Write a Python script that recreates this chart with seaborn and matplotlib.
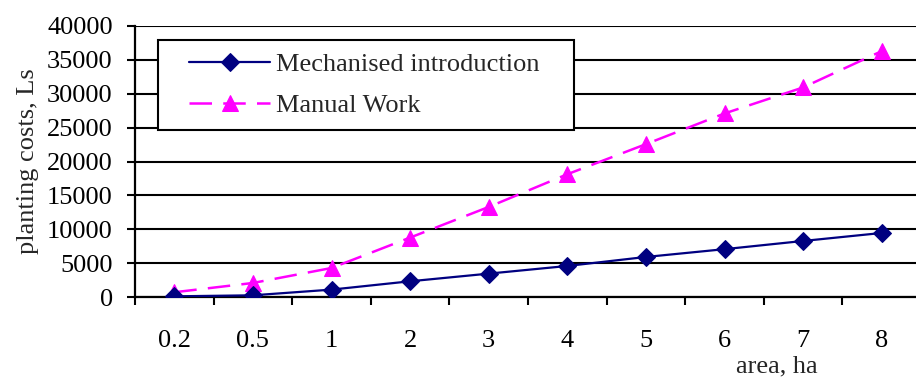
import matplotlib
matplotlib.use("Agg")
import matplotlib.pyplot as plt
from matplotlib.patches import Rectangle
import numpy as np
import pandas as pd
import seaborn as sns

# planting area categories (ha)
areas = ["0.2", "0.5", "1", "2", "3", "4", "5", "6", "7", "8"]
# planting costs, Ls
mechanised = [100, 250, 1090, 2320, 3450, 4580, 5910, 7060, 8270, 9450]
manual = [700, 2070, 4280, 8770, 13290, 18120, 22560, 27090, 30930, 36290]
y_ticks = [0, 5000, 10000, 15000, 20000, 25000, 30000, 35000, 40000]

FS = 19
W, H = 916, 377

sns.set_theme(style="white")
plt.rcParams["font.family"] = ["Liberation Serif", "DejaVu Serif"]

fig = plt.figure(figsize=(W / 100, H / 100), dpi=100)
ax = fig.add_axes([135 / W, 1 - 297 / H, 786 / W, 271 / H])

df = pd.DataFrame({"area": areas, "mech": mechanised, "man": manual})

sns.lineplot(data=df, x="area", y="mech", sort=False, ax=ax, color="#000080",
             lw=1.6, marker="D", markersize=9, markeredgecolor="#000080",
             label="Mechanised introduction", zorder=4)
sns.lineplot(data=df, x="area", y="man", sort=False, ax=ax, color="#FF00FF",
             lw=1.8, marker="^", markersize=11, markeredgecolor="#FF00FF",
             dashes=(9, 4.5), label="Manual Work", zorder=3)

ax.set_xlim(-0.5, 9.5)
ax.set_ylim(0, 40000)
ax.set_yticks(y_ticks)
ax.set_yticklabels([str(v) for v in y_ticks], fontsize=FS)
ax.yaxis.grid(True, color="black", lw=1.5)
ax.set_axisbelow(True)

ax.set_xticks(range(len(areas)))
ax.set_xticklabels(areas, fontsize=FS)
ax.set_xticks(np.arange(-0.5, len(areas), 1.0), minor=True)
ax.tick_params(axis="x", which="major", length=0, pad=24, colors="black")
ax.tick_params(axis="x", which="minor", length=6, width=1.5, direction="out",
               bottom=True, color="black")
ax.tick_params(axis="y", length=6, width=1.5, direction="out", left=True,
               colors="black", pad=10)

for side in ["top", "right"]:
    ax.spines[side].set_visible(False)
for side in ["left", "bottom"]:
    ax.spines[side].set_color("black")
    ax.spines[side].set_linewidth(1.6)

ax.set_xlabel("")
ax.set_ylabel("planting costs, Ls", fontsize=FS, labelpad=6)
fig.text(777 / W, 1 - 366 / H, "area, ha", fontsize=FS, ha="center",
         va="center")

# legend box: white panel with black border, entries laid on top
ax.add_patch(Rectangle((158 / W, 1 - 130 / H), 416 / W, 90 / H,
                       transform=fig.transFigure, facecolor="white",
                       edgecolor="black", lw=1.5, zorder=6, clip_on=False))
leg = ax.legend(loc="upper left", bbox_to_anchor=(189 / W, 1 - 53 / H),
                bbox_transform=fig.transFigure, fontsize=FS, frameon=False,
                handlelength=3.07, labelspacing=0.66, borderpad=0,
                handletextpad=0.23, borderaxespad=0)
leg.set_zorder(7)

fig.savefig("out.png", dpi=100)
